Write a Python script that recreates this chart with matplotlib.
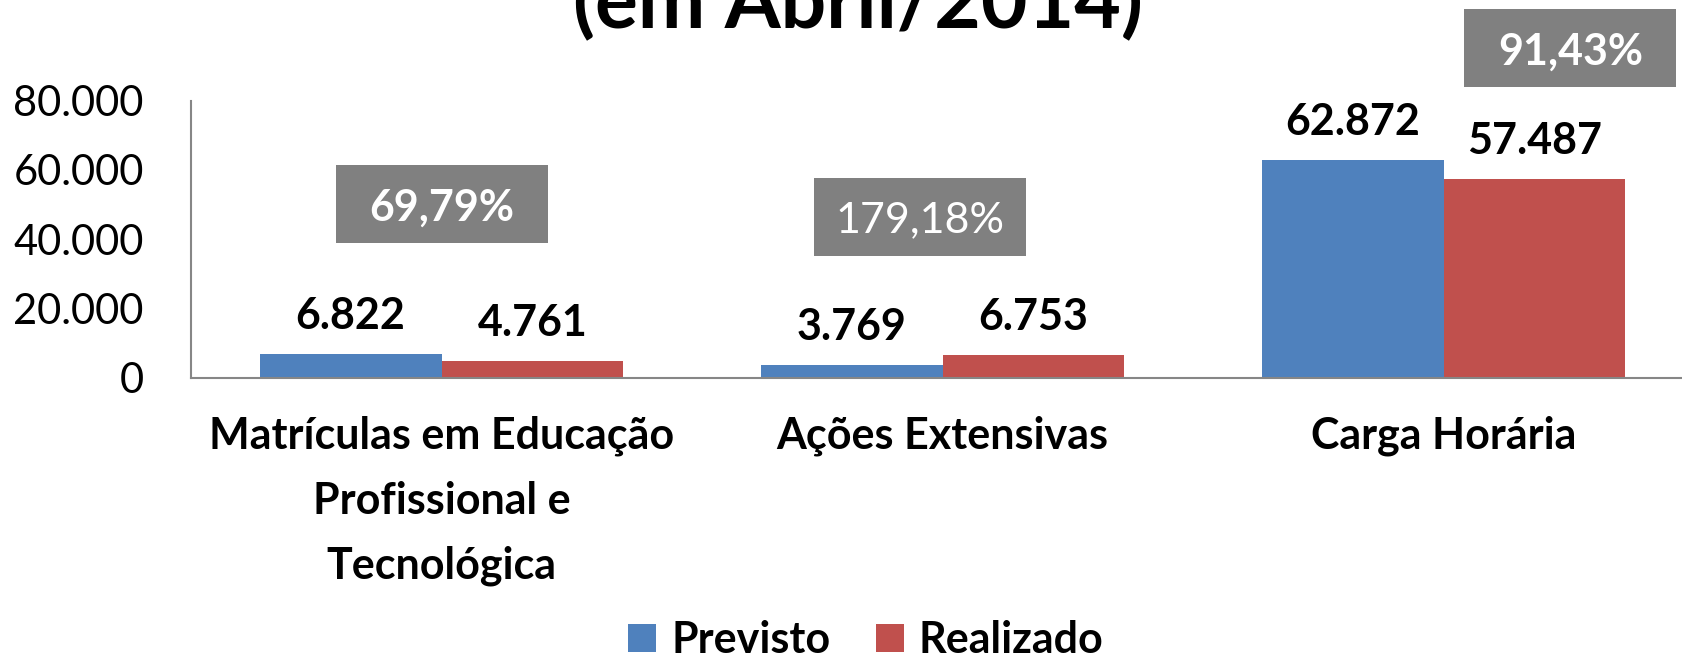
import matplotlib
matplotlib.use("Agg")
import matplotlib.pyplot as plt
from matplotlib.patches import Rectangle, Patch
import numpy as np

plt.rcParams['font.family'] = ['Lato', 'DejaVu Sans']

# dados
categorias = ["Matrículas em Educação\nProfissional e\nTecnológica",
              "Ações Extensivas",
              "Carga Horária"]
previsto = [6822, 3769, 62872]
realizado = [4761, 6753, 57487]
percentuais = ["69,79%", "179,18%", "91,43%"]
pct_negrito = [True, False, True]
yticks = [0, 20000, 40000, 60000, 80000]
ytick_labels = ["0", "20.000", "40.000", "60.000", "80.000"]

# posicao das caixas de percentual (centro: deslocamento em x, valor em y)
caixa_dx = [0.0, -0.046, 0.253]
caixa_y = [50180, 46430, 95170]
caixa_w, caixa_h = 0.423, 22500

azul = '#4F81BD'
vermelho = '#C0504D'
cinza = '#808080'

fig = plt.figure(figsize=(16.82, 6.57), dpi=100)
ax = fig.add_axes([0.1136, 0.4247, 0.8936, 0.4222])

x = np.arange(len(categorias))
w = 0.363
b1 = ax.bar(x - w / 2, previsto, w, color=azul, zorder=2)
b2 = ax.bar(x + w / 2, realizado, w, color=vermelho, zorder=2)


def fmt(v):
    return f"{v:,}".replace(",", ".")


for bars, vals in ((b1, previsto), (b2, realizado)):
    for r, v in zip(bars, vals):
        ax.annotate(fmt(v), (r.get_x() + r.get_width() / 2, v),
                    xytext=(0, 18), textcoords='offset points',
                    ha='center', va='baseline', fontsize=31, fontweight='bold')

for i, txt in enumerate(percentuais):
    cx = x[i] + caixa_dx[i]
    cy = caixa_y[i]
    ax.add_patch(Rectangle((cx - caixa_w / 2, cy - caixa_h / 2), caixa_w, caixa_h,
                           facecolor=cinza, edgecolor='none', clip_on=False, zorder=3))
    ax.text(cx, cy, txt, ha='center', va='center_baseline', color='white',
            fontsize=31, fontweight='bold' if pct_negrito[i] else 'normal',
            zorder=4, clip_on=False)

ax.set_xlim(-0.5, 2.5)
ax.set_ylim(0, 80000)
ax.set_yticks(yticks)
ax.set_yticklabels(ytick_labels, fontsize=30)
ax.set_xticks(x)
ax.set_xticklabels(categorias, fontsize=31, fontweight='bold', linespacing=1.75)
ax.tick_params(axis='y', length=0, pad=34)
ax.tick_params(axis='x', length=0, pad=27)

for s in ('top', 'right'):
    ax.spines[s].set_visible(False)
for s in ('left', 'bottom'):
    ax.spines[s].set_color('#868686')
    ax.spines[s].set_linewidth(1.5)

fig.text(858 / 1682, 1 - 28 / 657, "(em Abril/2014)", ha='center', va='baseline',
         fontsize=58, fontweight='bold')

handles = [Patch(facecolor=azul, label='Previsto'), Patch(facecolor=vermelho, label='Realizado')]
fig.legend(handles=handles, loc='center', bbox_to_anchor=(866 / 1682, 1 - 640 / 657),
           ncol=2, frameon=False, prop={'size': 31, 'weight': 'bold'},
           handlelength=0.65, handleheight=0.65, handletextpad=0.35, columnspacing=1.05,
           borderaxespad=0, borderpad=0)

fig.savefig("out.png", dpi=100)
